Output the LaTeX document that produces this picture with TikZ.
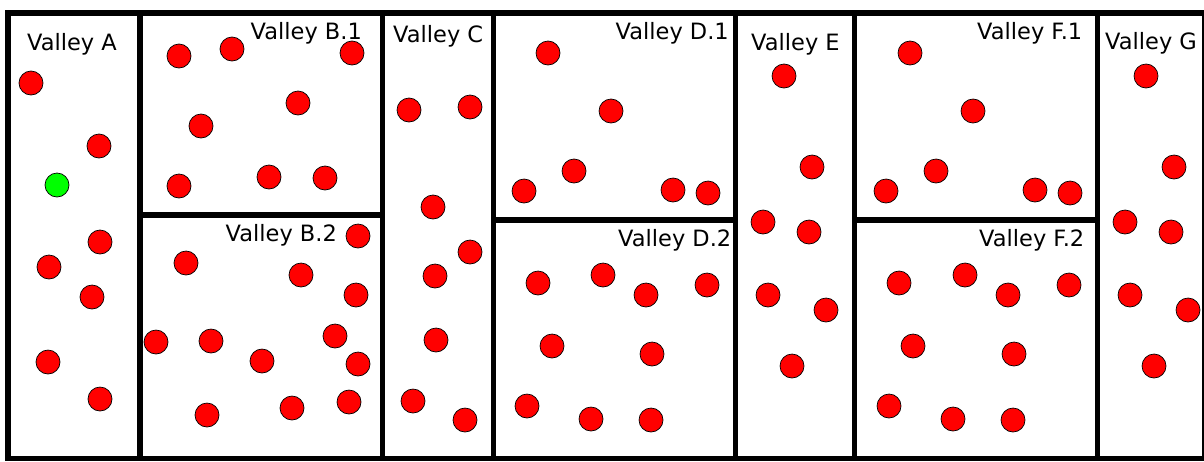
\documentclass[tikz,border=0pt]{standalone}
\usepackage{fontspec}
\setmainfont{DejaVu Sans}
\usetikzlibrary{positioning}
\definecolor{Ink}{HTML}{000000}
\definecolor{DotRed}{HTML}{FF0000}
\definecolor{DotGreen}{HTML}{00FF00}
\tikzset{
  wall/.style={draw=Ink,line width=5.5pt},
  dot/.style={circle,draw=Ink,line width=0.7pt,fill=DotRed,minimum size=24pt,inner sep=0pt},
  seed/.style={dot,fill=DotGreen},
  vname/.style={anchor=base west,inner sep=0pt,text=Ink,font=\fontsize{22.5}{26}\selectfont},
}
\begin{document}
\begin{tikzpicture}[x=1pt,y=-1pt]
% -frame-
\draw[wall] (8,13) rectangle (1205,458.5);
\foreach \xw in {140,382.5,493.5,735.5,854.5,1097.5}
  \draw[wall] (\xw,13) -- (\xw,458.5);
\draw[wall] (140,215) -- (382.5,215);
\draw[wall] (493.5,220) -- (735.5,220);
\draw[wall] (854.5,220) -- (1097.5,220);
% -valley A-
\node[vname] (tA) at (27,50) {Valley A};
\foreach \p [count=\i] in {(31,83),(99,146),(100,242),(49,267),(92,297),(48,362),(100,399)}
  \node[dot] (a\i) at \p {};
\node[seed] (a0) at (57,185) {};
% -valley B-
\node[vname] (tB1) at (250.5,39.5) {Valley B.1};
\foreach \p [count=\i] in {(179,56),(232,49),(352,53),(298,103),(201,126),(179,186),(269,177),(325,178)}
  \node[dot] (b1-\i) at \p {};
\node[vname] (tB2) at (225.5,241.5) {Valley B.2};
\foreach \p [count=\i] in {(358,236),(186,263),(301,275),(356,295),(156,342),(211,341),(335,336),(262,361),(358,364),(207,415),(292,408),(349,402)}
  \node[dot] (b2-\i) at \p {};
% -valley C-
\node[vname] (tC) at (393,42.5) {Valley C};
\foreach \p [count=\i] in {(409,110),(470,107),(433,207),(470,252),(435,276),(436,340),(413,401),(465,420)}
  \node[dot] (c\i) at \p {};
% -valley D-
\node[vname] (tD1) at (615.5,39.5) {Valley D.1};
\foreach \p [count=\i] in {(548,53),(611,111),(574,171),(524,191),(673,190),(708,193)}
  \node[dot] (d1-\i) at \p {};
\node[vname] (tD2) at (618,246) {Valley D.2};
\foreach \p [count=\i] in {(538,283),(603,275),(646,295),(707,285),(552,346),(652,354),(527,406),(591,419),(651,420)}
  \node[dot] (d2-\i) at \p {};
% -valley E-
\node[vname] (tE) at (751,50) {Valley E};
\foreach \p [count=\i] in {(784,76),(812,167),(763,222),(809,232),(768,295),(826,310),(792,366)}
  \node[dot] (e\i) at \p {};
% -valley F-
\node[vname] (tF1) at (977,39.5) {Valley F.1};
\foreach \p [count=\i] in {(910,53),(973,111),(936,171),(886,191),(1035,190),(1070,193)}
  \node[dot] (f1-\i) at \p {};
\node[vname] (tF2) at (979,246) {Valley F.2};
\foreach \p [count=\i] in {(899,283),(965,275),(1008,295),(1069,285),(913,346),(1014,354),(889,406),(953,419),(1013,420)}
  \node[dot] (f2-\i) at \p {};
% -valley G-
\node[vname] (tG) at (1105,49.5) {Valley G};
\foreach \p [count=\i] in {(1146,76),(1174,167),(1125,222),(1171,232),(1130,295),(1188,310),(1154,366)}
  \node[dot] (g\i) at \p {};
\pgfresetboundingbox
\path[use as bounding box] (0,0) rectangle (1204,461);
\end{tikzpicture}
\end{document}
